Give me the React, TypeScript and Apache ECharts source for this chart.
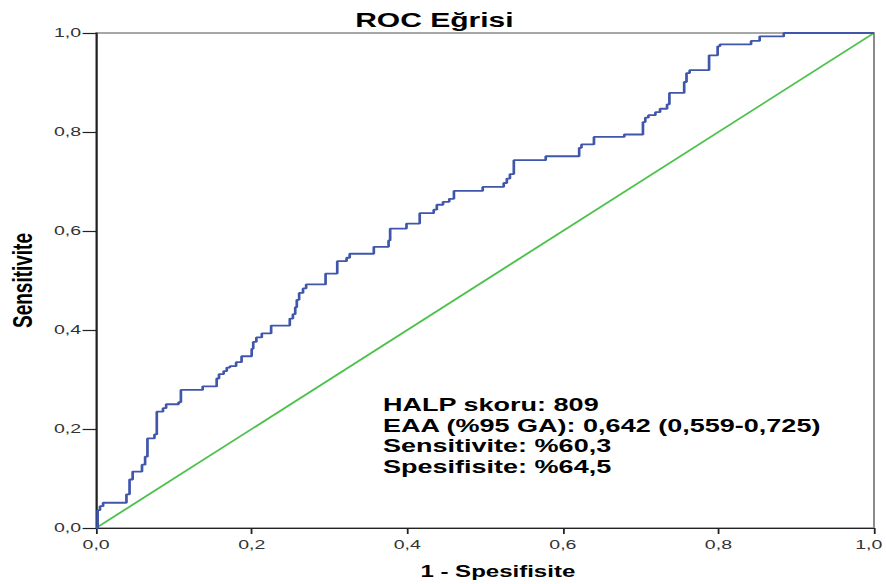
import React, { useEffect, useRef } from "react";
import * as echarts from "echarts";

// ROC curve vertices (top of each vertical step)
const FPR = [
  0, 0.002, 0.005, 0.009, 0.039, 0.043, 0.047, 0.059, 0.063, 0.066, 0.075, 0.078, 0.086, 0.09, 0.106,
  0.109, 0.137, 0.155, 0.158, 0.164, 0.168, 0.172, 0.18, 0.187, 0.2, 0.202, 0.206, 0.213, 0.225, 0.249,
  0.253, 0.256, 0.258, 0.261, 0.266, 0.27, 0.295, 0.31, 0.322, 0.326, 0.357, 0.376, 0.378, 0.399, 0.416,
  0.434, 0.438, 0.446, 0.454, 0.46, 0.497, 0.524, 0.528, 0.532, 0.537, 0.578, 0.621, 0.624, 0.64, 0.679,
  0.703, 0.706, 0.71, 0.719, 0.725, 0.734, 0.737, 0.756, 0.759, 0.763, 0.788, 0.799, 0.802, 0.842, 0.853,
  0.884, 1.0,
];
const TPR = [
  0, 0.036, 0.044, 0.051, 0.068, 0.098, 0.114, 0.128, 0.144, 0.181, 0.189, 0.235, 0.242, 0.25, 0.254,
  0.279, 0.286, 0.302, 0.311, 0.317, 0.324, 0.327, 0.335, 0.347, 0.362, 0.376, 0.385, 0.393, 0.409, 0.423,
  0.432, 0.446, 0.461, 0.475, 0.484, 0.492, 0.514, 0.539, 0.546, 0.554, 0.568, 0.581, 0.605, 0.615, 0.636,
  0.643, 0.653, 0.659, 0.665, 0.681, 0.689, 0.697, 0.706, 0.715, 0.743, 0.751, 0.768, 0.775, 0.79, 0.795,
  0.82, 0.829, 0.834, 0.84, 0.847, 0.856, 0.879, 0.901, 0.919, 0.925, 0.955, 0.973, 0.977, 0.984, 0.993,
  1.0, 1.0,
];
const REF_X = [0, 1];
const REF_Y = [0, 1];

const AXIS_MIN = 0;
const AXIS_MAX = 1;
const AXIS_STEP = 0.2;

const TITLE = "ROC Eğrisi";
const X_NAME = "1 - Spesifisite";
const Y_NAME = "Sensitivite";
const NOTE_LINES = [
  "HALP skoru: 809",
  "EAA (%95 GA): 0,642 (0,559-0,725)",
  "Sensitivite: %60,3",
  "Spesifisite: %64,5",
];

const OUT_W = 886;
const OUT_H = 584;
const INNER_W = 590;
const SX = OUT_W / INNER_W;
const FONT = '"Liberation Sans", Arial, sans-serif';

function stepPoints(xs: number[], ys: number[]): number[][] {
  const pts: number[][] = [[xs[0], ys[0]]];
  for (let i = 1; i < xs.length; i++) {
    pts.push([xs[i], ys[i - 1]]);
    pts.push([xs[i], ys[i]]);
  }
  return pts;
}

const fmt = (v: number) => v.toFixed(1).replace(".", ",");
const fmtX = (v: number) => (v >= AXIS_MAX ? `{edge|${fmt(v)}}` : fmt(v));

export default function App() {
  const ref = useRef<HTMLDivElement>(null);

  useEffect(() => {
    if (!ref.current) return;
    const chart = echarts.init(ref.current, null, {
      renderer: "svg",
      width: INNER_W,
      height: OUT_H,
    });
    const labelStyle = { fontFamily: FONT, fontSize: 13, color: "#333" };
    const option: any = {
      animation: false,
      backgroundColor: "#ffffff",
      title: {
        text: TITLE,
        left: 236.5,
        top: 9.5,
        padding: 0,
        textStyle: { fontFamily: FONT, fontSize: 20, fontWeight: "bold", color: "#000" },
      },
      grid: {
        left: 64,
        right: 8,
        top: 33,
        bottom: 56,
        containLabel: false,
        outerBoundsMode: "none",
        show: true,
        borderColor: "#8a8a8a",
        borderWidth: 1.3,
        backgroundColor: "transparent",
      },
      xAxis: {
        type: "value",
        min: AXIS_MIN,
        max: AXIS_MAX,
        interval: AXIS_STEP,
        name: X_NAME,
        nameLocation: "middle",
        nameGap: 36,
        nameTextStyle: {
          fontFamily: FONT,
          fontSize: 16,
          fontWeight: "bold",
          color: "#000",
          padding: [0, 0, 0, 17],
        },
        axisLine: { show: true, onZero: false, lineStyle: { color: "#222", width: 1.2 } },
        axisTick: { show: true, length: 6, lineStyle: { color: "#222", width: 1.2 } },
        axisLabel: {
          ...labelStyle,
          margin: 10,
          formatter: fmtX,
          rich: { edge: { ...labelStyle, padding: [0, 7, 0, 0] } },
        },
        splitLine: { show: false },
      },
      yAxis: {
        type: "value",
        min: AXIS_MIN,
        max: AXIS_MAX,
        interval: AXIS_STEP,
        name: Y_NAME,
        nameLocation: "middle",
        nameGap: 40,
        nameTextStyle: { fontFamily: FONT, fontSize: 19, fontWeight: "bold", color: "#000" },
        axisLine: { show: true, onZero: false, lineStyle: { color: "#222", width: 1.2 } },
        axisTick: { show: true, length: 9, lineStyle: { color: "#222", width: 1.2 } },
        axisLabel: {
          ...labelStyle,
          margin: 10,
          formatter: fmt,
        },
        splitLine: { show: false },
      },
      series: [
        {
          type: "line",
          data: REF_X.map((x, i) => [x, REF_Y[i]]),
          symbol: "none",
          lineStyle: { color: "#4cc24c", width: 1.6 },
          z: 2,
        },
        {
          type: "line",
          data: stepPoints(FPR, TPR),
          symbol: "none",
          lineStyle: { color: "#3f56ab", width: 1.8 },
          z: 3,
        },
      ],
      graphic: NOTE_LINES.map((t, i) => ({
        type: "text",
        left: 255,
        top: 396 + i * 20.5,
        style: {
          text: t,
          font: `bold 18px ${FONT}`,
          fill: "#000",
        },
      })),
    };
    chart.setOption(option);
    return () => chart.dispose();
  }, []);

  return (
    <div
      style={{
        position: "fixed",
        left: 0,
        top: 0,
        width: OUT_W,
        height: OUT_H,
        overflow: "hidden",
        background: "#fff",
      }}
    >
      <div
        ref={ref}
        style={{
          width: INNER_W,
          height: OUT_H,
          transform: `scaleX(${SX})`,
          transformOrigin: "0 0",
        }}
      />
    </div>
  );
}
